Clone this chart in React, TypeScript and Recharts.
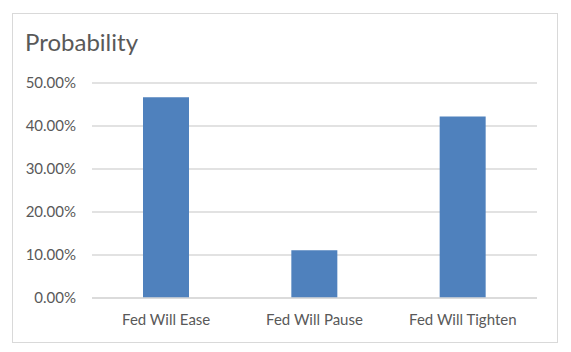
import { Bar, BarChart, CartesianGrid, XAxis, YAxis } from 'recharts';

const categories = ['Fed Will Ease', 'Fed Will Pause', 'Fed Will Tighten'];
const probability = [0.4667, 0.1111, 0.4222];
const yTicks = [0, 0.1, 0.2, 0.3, 0.4, 0.5];

const data = categories.map((name, i) => ({ name, value: probability[i] }));

const FONT = 'Lato, "Open Sans", sans-serif';
const TEXT = '#595959';
const GRID = '#d9d9d9';

export default function App() {
  return (
    <div
      style={{
        position: 'absolute',
        left: 0,
        top: 0,
        width: 571,
        height: 352,
        background: '#fff',
        fontFamily: FONT,
      }}
    >
      {/* chart area border, like the Excel chart frame */}
      <div
        style={{
          position: 'absolute',
          left: 12,
          top: 13,
          width: 546,
          height: 330,
          boxSizing: 'border-box',
          border: `1px solid ${GRID}`,
        }}
      />
      <div
        style={{
          position: 'absolute',
          left: 25,
          top: 30,
          fontSize: 24,
          lineHeight: '24px',
          color: TEXT,
        }}
      >
        Probability
      </div>
      <div style={{ position: 'absolute', left: 0, top: 0 }}>
        <BarChart
          width={571}
          height={352}
          data={data}
          margin={{ top: 83, right: 34, left: 0, bottom: 24 }}
        >
          <CartesianGrid vertical={false} stroke={GRID} strokeWidth={1.5} />
          <XAxis
            dataKey="name"
            height={30}
            axisLine={{ stroke: GRID, strokeWidth: 1.5 }}
            tickLine={false}
            tickSize={0}
            tickMargin={16}
            interval={0}
            tick={{ fill: TEXT, fontSize: 15, fontFamily: FONT }}
          />
          <YAxis
            width={92}
            domain={[0, 0.5]}
            ticks={yTicks}
            axisLine={false}
            tickLine={false}
            tickSize={0}
            tickMargin={16}
            tickFormatter={(v: number) => `${(v * 100).toFixed(2)}%`}
            tick={{ fill: TEXT, fontSize: 15, fontFamily: FONT }}
          />
          <Bar dataKey="value" fill="#4f81bd" barSize={46} isAnimationActive={false} />
        </BarChart>
      </div>
    </div>
  );
}
